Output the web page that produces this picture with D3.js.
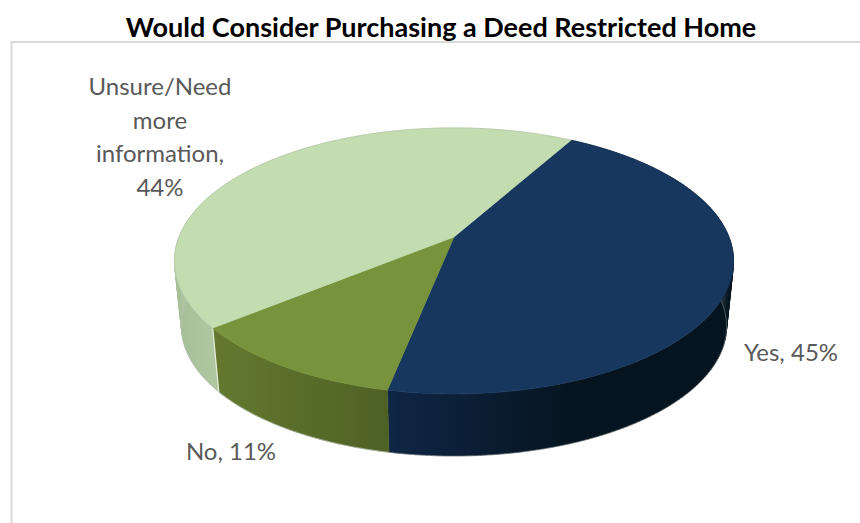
<!DOCTYPE html>
<html>
<head>
<meta charset="utf-8">
<script src="https://cdn.jsdelivr.net/npm/d3@7"></script>
<style>
  html, body { margin: 0; padding: 0; background: #fff; }
  text { font-family: Lato, "Open Sans", sans-serif; }
  .title { font-size: 27px; font-weight: 700; fill: #000; }
  .label { font-size: 24px; fill: #595959; }
</style>
</head>
<body>
<div id="chart"></div>
<script>
// Data
var categories = ["Yes", "No", "Unsure/Need more information"];
var values = [45, 11, 44];
var wrapped = [false, false, true];
var chartTitle = "Would Consider Purchasing a Deed Restricted Home";

var topColors = ["#17375e", "#77933c", "#c3dcb0"];
var wallLeft = ["#0f2645", "#64792f", "#b5cba6"];
var wallRight = ["#06141f", "#4e6125", "#a5be96"];

var width = 860, height = 523;

var svg = d3.select("#chart").append("svg")
    .attr("width", width)
    .attr("height", height)
    .style("display", "block");

// Chart frame
svg.append("path")
    .attr("d", "M11.5,523V42H860")
    .attr("fill", "none")
    .attr("stroke", "#d9d9d9")
    .attr("stroke-width", 2);

svg.append("text")
    .attr("class", "title")
    .attr("x", 441)
    .attr("y", 37)
    .attr("text-anchor", "middle")
    .text(chartTitle);

// Tilted pie: perspective projection of the unit circle
var cx = 454, cy = 237, rx = 275, ry = 128.7, persp = 0.18;
var depth = 66, shrink = 0.975;
var firstAngle = 29.5;

function project(angle, r, s, dy) {
    var u = Math.sin(angle) * r, v = -Math.cos(angle) * r;
    var d = 1 - persp * v;
    return [cx + s * rx * u / d, cy + dy + s * ry * v / d];
}

var pie = d3.pie()
    .sort(null)
    .startAngle(firstAngle * Math.PI / 180)
    .endAngle((firstAngle + 360) * Math.PI / 180);
var slices = pie(values);

function arcPoints(d, s, dy) {
    var n = Math.max(2, Math.ceil((d.endAngle - d.startAngle) * 60));
    return d3.range(n + 1).map(function(i) {
        return project(d.startAngle + (d.endAngle - d.startAngle) * i / n, 1, s, dy);
    });
}

var line = d3.line().curve(d3.curveLinear);
var defs = svg.append("defs");

// Side walls first, the top faces cover whatever is behind them
slices.forEach(function(d, i) {
    var upper = arcPoints(d, 1, 0);
    var lower = arcPoints(d, shrink, depth);
    var visible = upper.concat(lower).filter(function(p) { return p[1] > 250; });
    var grad = defs.append("linearGradient")
        .attr("id", "wall" + i)
        .attr("gradientUnits", "userSpaceOnUse")
        .attr("x1", d3.min(visible, function(p) { return p[0]; }))
        .attr("x2", d3.max(visible, function(p) { return p[0]; }))
        .attr("y1", 0)
        .attr("y2", 0);
    // Yes and No walls darken towards the right, Unsure darkens towards its outer edge
    grad.append("stop").attr("offset", 0).attr("stop-color", i == 2 ? wallRight[i] : wallLeft[i]);
    grad.append("stop").attr("offset", i == 0 ? 0.55 : 1).attr("stop-color", i == 2 ? wallLeft[i] : wallRight[i]);

    // one quad per arc step so the silhouette at the far left and right gets filled
    var strip = "";
    for (var k = 0; k < upper.length - 1; k++) {
        strip += line([upper[k], upper[k + 1], lower[k + 1], lower[k]]) + "Z";
    }
    svg.append("path")
        .attr("d", strip)
        .attr("fill", "url(#wall" + i + ")")
        .attr("stroke", "url(#wall" + i + ")")
        .attr("stroke-width", 0.5);

    // faint rim along the bottom edge
    svg.append("path")
        .attr("d", line(lower))
        .attr("fill", "none")
        .attr("stroke", "#b9c0b4")
        .attr("stroke-opacity", i == 0 ? 0.35 : 0.7)
        .attr("stroke-width", 1);
});

// Seam between the No and Unsure walls
var seam = slices[2].startAngle;
svg.append("path")
    .attr("d", line([project(seam, 1, 1, 0), project(seam, 1, shrink, depth)]))
    .attr("stroke", "#e4edd8")
    .attr("stroke-width", 1.2);

// Top faces
slices.forEach(function(d, i) {
    svg.append("path")
        .attr("d", line([project(0, 0, 1, 0)].concat(arcPoints(d, 1, 0))) + "Z")
        .attr("fill", topColors[i])
        .attr("stroke", topColors[i])
        .attr("stroke-width", 0.6);
});

// Grey edge around the light slice
svg.append("path")
    .attr("d", line(arcPoints(slices[2], 1, 0)))
    .attr("fill", "none")
    .attr("stroke", "#b4bfac")
    .attr("stroke-opacity", 0.5)
    .attr("stroke-width", 0.8);

// Data labels
var labelPos = [[791, 361], [231, 460], [160, 95]];
var labelStep = 33.6;

categories.forEach(function(c, i) {
    var text = c + ", " + values[i] + "%";
    var lines = wrapped[i] ? ["Unsure/Need", "more", "information,", values[i] + "%"] : [text];
    var t = svg.append("text")
        .attr("class", "label")
        .attr("text-anchor", "middle")
        .attr("x", labelPos[i][0])
        .attr("y", labelPos[i][1]);
    lines.forEach(function(l, j) {
        t.append("tspan")
            .attr("x", labelPos[i][0])
            .attr("y", labelPos[i][1] + j * labelStep)
            .text(l);
    });
});
</script>
</body>
</html>
